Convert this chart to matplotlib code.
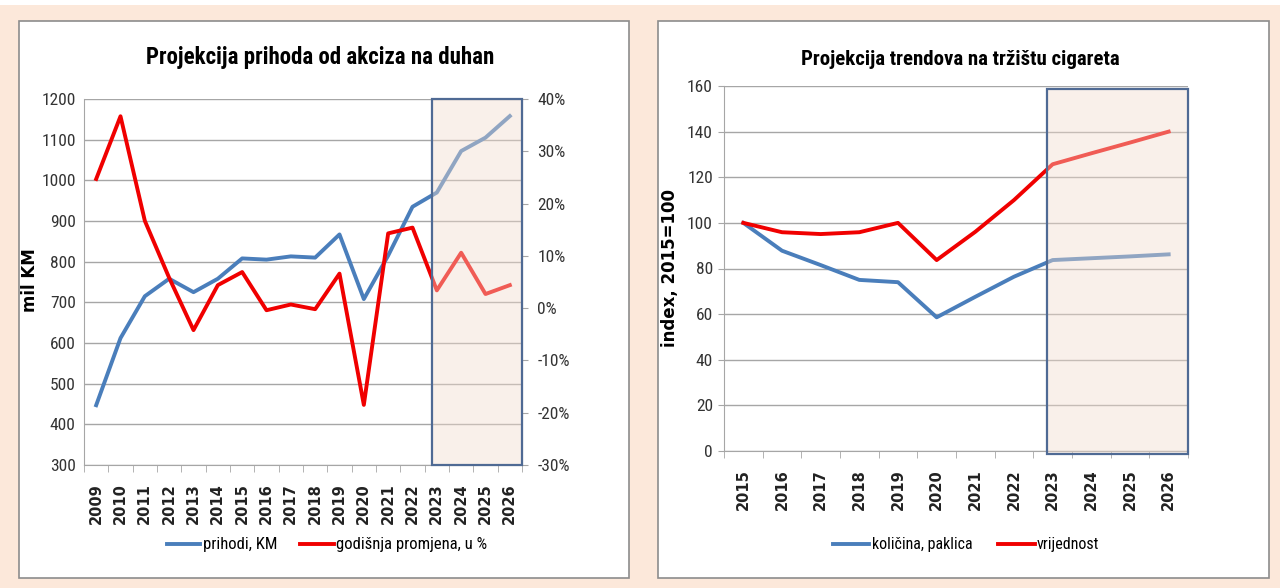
import numpy as np
import matplotlib
matplotlib.use('Agg')
import matplotlib.pyplot as plt
from matplotlib.patches import Rectangle
from matplotlib.ticker import FuncFormatter
import matplotlib.transforms as mtransforms

# lijevi grafikon: prihodi od akciza na duhan
years_a = ['2009', '2010', '2011', '2012', '2013', '2014', '2015', '2016', '2017',
           '2018', '2019', '2020', '2021', '2022', '2023', '2024', '2025', '2026']
prihodi = [447, 612, 715, 758, 725, 758, 808, 805, 813, 810, 867, 708, 815, 935,
           970, 1072, 1105, 1158]
promjena = [24.7, 36.7, 16.7, 5.8, -4.2, 4.4, 6.9, -0.4, 0.7, -0.2, 6.6, -18.5,
            14.3, 15.4, 3.4, 10.6, 2.7, 4.4]

# desni grafikon: trendovi na trzistu cigareta (2015=100)
years_b = ['2015', '2016', '2017', '2018', '2019', '2020', '2021', '2022', '2023',
           '2024', '2025', '2026']
kolicina = [100, 87.8, 81.5, 75, 74, 58.6, 67.6, 76.4, 83.7, 84.5, 85.3, 86.2]
vrijednost = [100, 95.9, 95.1, 95.9, 100, 83.7, 96.1, 110, 125.7, 130.5, 135.2, 140]

narrow = ['Roboto Condensed', 'Liberation Sans Narrow', 'Liberation Sans', 'DejaVu Sans']
peach = '#fce8da'
blue = '#4a7ebb'
red = '#f00000'
grid_c = '#a6a6a6'
box_c = '#4f6a94'

fig = plt.figure(figsize=(12.8, 5.88), dpi=100)
fig.patch.set_facecolor(peach)

W, H = 1280.0, 588.0
def frac(x0, y0, x1, y1):
	return [x0 / W, 1 - y1 / H, (x1 - x0) / W, (y1 - y0) / H]

# bijeli paneli
for (x0, x1) in [(19, 629), (658, 1269)]:
	r = frac(x0, 21, x1, 578)
	fig.patches.append(Rectangle((r[0], r[1]), r[2], r[3], transform=fig.transFigure,
	                             facecolor='white', edgecolor='#8c8c8c', lw=1.2, zorder=-5))
fig.patches.append(Rectangle((0, 1 - 5 / H), 1, 5 / H, transform=fig.transFigure,
                             facecolor='white', edgecolor='none', zorder=-5))

def style_cat_axis(ax, labels):
	n = len(labels)
	ax.set_xlim(-0.5, n - 0.5)
	ax.set_xticks(np.arange(n))
	ax.set_xticklabels(labels, rotation=90, fontsize=10.5, fontweight='bold',
	                   family='DejaVu Sans', color='#222222')
	ax.set_xticks(np.arange(n + 1) - 0.5, minor=True)
	ax.tick_params(axis='x', which='major', length=0, pad=13)
	ax.tick_params(axis='x', which='minor', length=5, color=grid_c)
	for s in ['top', 'right']:
		ax.spines[s].set_visible(False)
	ax.spines['left'].set_color(grid_c)
	ax.spines['bottom'].set_color(grid_c)
	ax.grid(axis='y', color=grid_c, lw=1)
	ax.set_axisbelow(True)

# ---- lijevi grafikon ----
ax1 = fig.add_axes(frac(84, 99, 522, 465))
ax1.set_facecolor('white')
xa = np.arange(len(years_a))
l1, = ax1.plot(xa, prihodi, color=blue, lw=2.8, label='prihodi, KM')
ax1.set_ylim(300, 1200)
ax1.set_yticks(np.arange(300, 1201, 100))
style_cat_axis(ax1, years_a)
ax1.tick_params(axis='y', length=0, pad=6)
for t in ax1.get_yticklabels():
	t.set_family(narrow)
	t.set_fontsize(12.5)
	t.set_color('#333333')
ax1.set_ylabel('mil KM', fontsize=12, fontweight='bold', family='DejaVu Sans')
ax1.yaxis.set_label_coords(-0.103, 0.505)

ax2 = ax1.twinx()
l2, = ax2.plot(xa, promjena, color=red, lw=2.8, label='godišnja promjena, u %')
ax2.set_ylim(-30, 40)
ax2.set_yticks(np.arange(-30, 41, 10))
ax2.yaxis.set_major_formatter(FuncFormatter(lambda v, p: '%d%%' % v))
ax2.tick_params(axis='y', length=4, color=grid_c, pad=7)
for t in ax2.get_yticklabels():
	t.set_family(narrow)
	t.set_fontsize(12.5)
	t.set_color('#333333')
for s in ['top', 'left', 'bottom']:
	ax2.spines[s].set_visible(False)
ax2.spines['right'].set_color(grid_c)

# prognoza 2023-2026: poluprozirni okvir preko linija
trans2 = mtransforms.blended_transform_factory(ax2.transData, ax2.transAxes)
ax2.add_patch(Rectangle((13.8, 0), 17.5 - 13.8, 1, transform=trans2, facecolor='#f2dccd',
                        alpha=0.42, edgecolor='none', zorder=5))
ax2.add_patch(Rectangle((13.8, 0), 17.5 - 13.8, 1, transform=trans2, facecolor='none',
                        edgecolor=box_c, lw=1.6, zorder=6, clip_on=False))

ax1.set_title('Projekcija prihoda od akciza na duhan', fontsize=16.5, fontweight='bold',
              family=narrow, pad=25, x=0.538)
fig.legend(handles=[l1, l2], loc='center', bbox_to_anchor=(327 / W, 1 - 545 / H),
           ncol=2, frameon=False, handlelength=2.0, handletextpad=0.15, columnspacing=1.4,
           prop={'family': narrow, 'size': 12})

# ---- desni grafikon ----
ax3 = fig.add_axes(frac(724, 86, 1188, 451))
xb = np.arange(len(years_b))
l3, = ax3.plot(xb, kolicina, color=blue, lw=2.8, label='količina, paklica')
l4, = ax3.plot(xb, vrijednost, color=red, lw=2.8, label='vrijednost')
ax3.set_ylim(0, 160)
ax3.set_yticks(np.arange(0, 161, 20))
style_cat_axis(ax3, years_b)
ax3.tick_params(axis='y', length=4, color=grid_c, pad=4)
for t in ax3.get_yticklabels():
	t.set_family(narrow)
	t.set_fontsize(12.5)
	t.set_color('#333333')
ax3.set_ylabel('index, 2015=100', fontsize=12, fontweight='bold', family='DejaVu Sans')
ax3.yaxis.set_label_coords(-0.097, 0.501)
ax3.add_patch(Rectangle((7.85, -1.5), 11.5 - 7.85, 160, facecolor='#f2dccd', alpha=0.42,
                        edgecolor='none', zorder=5, clip_on=False))
ax3.add_patch(Rectangle((7.85, -1.5), 11.5 - 7.85, 160, facecolor='none', edgecolor=box_c,
                        lw=1.6, zorder=6, clip_on=False))
ax3.set_title('Projekcija trendova na tržištu cigareta', fontsize=15, fontweight='bold',
              family=narrow, pad=15, x=0.51)
fig.legend(handles=[l3, l4], loc='center', bbox_to_anchor=(966 / W, 1 - 545 / H),
           ncol=2, frameon=False, handlelength=2.3, handletextpad=0.15, columnspacing=1.6,
           prop={'family': narrow, 'size': 11.5})

fig.savefig('out.png', dpi=100, facecolor=fig.get_facecolor())
